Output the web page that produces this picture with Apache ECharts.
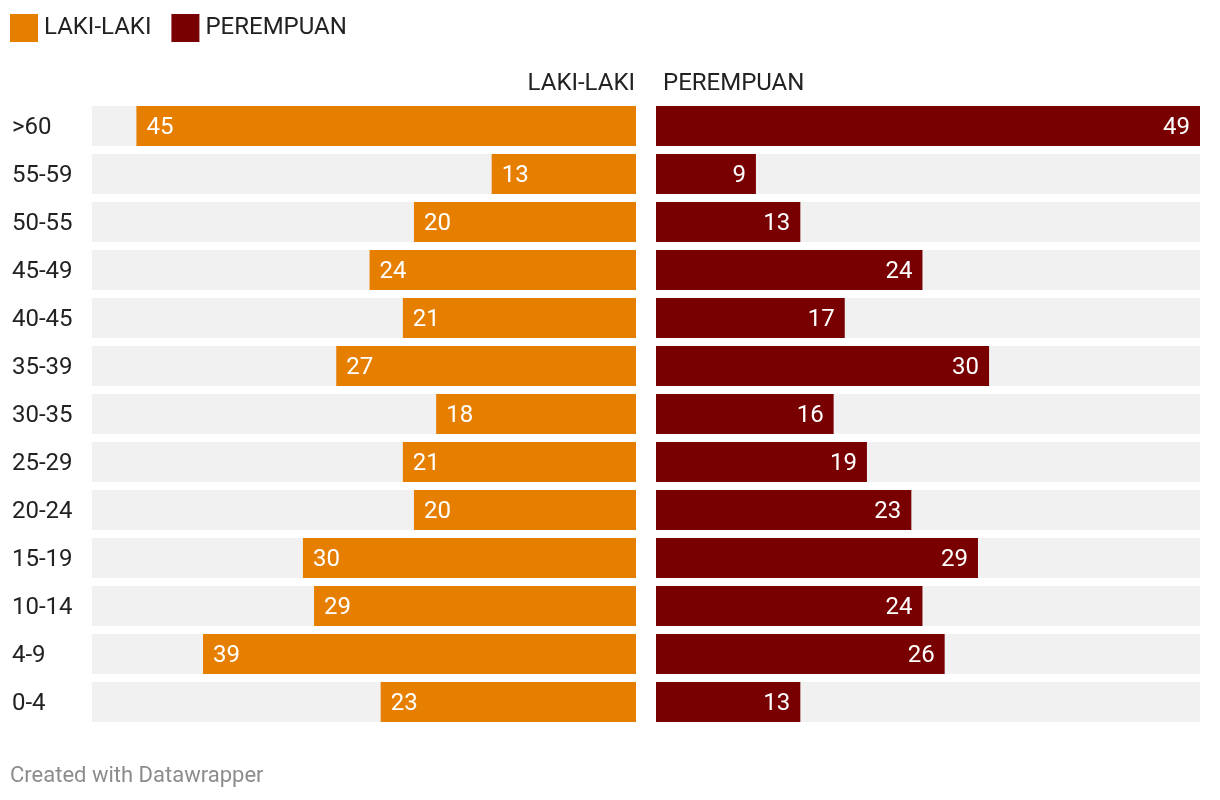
<!DOCTYPE html>
<html>
<head>
<meta charset="utf-8">
<script src="https://cdn.jsdelivr.net/npm/echarts@6/dist/echarts.min.js"></script>
<style>
html,body{margin:0;padding:0;background:#fff;}
#chart{width:1220px;height:800px;}
</style>
</head>
<body>
<div id="chart"></div>
<script>
const categories = ['>60','55-59','50-55','45-49','40-45','35-39','30-35','25-29','20-24','15-19','10-14','4-9','0-4'];
const lakiLaki = [45,13,20,24,21,27,18,21,20,30,29,39,23];
const perempuan = [49,9,13,24,17,30,16,19,23,29,24,26,13];
const seriesNames = ['LAKI-LAKI','PEREMPUAN'];
const scaleMax = 49;

const FONT = 'Roboto, "Noto Sans", sans-serif';
const ORANGE = '#e67e00';
const DARKRED = '#780000';
const BG = '#f1f1f1';

const chart = echarts.init(document.getElementById('chart'), null, {renderer:'canvas'});
const baseLabel = {show:true, color:'#ffffff', fontFamily:FONT, fontSize:24, distance:10, offset:[0,2]};

chart.setOption({
  animation:false,
  textStyle:{fontFamily:FONT},
  legend:{
    data:seriesNames, left:5, top:9, itemWidth:28, itemHeight:28, itemGap:20,
    icon:'rect', textStyle:{fontSize:24, color:'#222', fontFamily:FONT, padding:[0,0,2,1]}
  },
  grid:[
    {left:92, width:544, top:102, height:624},
    {left:656, width:544, top:102, height:624}
  ],
  xAxis:[
    {gridIndex:0, type:'value', min:0, max:scaleMax, inverse:true, show:false},
    {gridIndex:1, type:'value', min:0, max:scaleMax, show:false}
  ],
  yAxis:[
    {gridIndex:0, type:'category', data:categories, inverse:true,
     axisLine:{show:false}, axisTick:{show:false}, splitLine:{show:false},
     axisLabel:{align:'left', margin:80, color:'#222', fontFamily:FONT, fontSize:24,
       formatter:function(v){return '{a|' + v + '}';},
       rich:{a:{fontSize:24, color:'#222', fontFamily:FONT, padding:[4,0,0,0]}}}},
    {gridIndex:1, type:'category', data:categories, inverse:true, show:false}
  ],
  graphic:[
    {type:'text', x:635, y:84, style:{text:'LAKI-LAKI', fontSize:24, fill:'#222', fontFamily:FONT, textAlign:'right', textVerticalAlign:'middle'}},
    {type:'text', x:663, y:84, style:{text:'PEREMPUAN', fontSize:24, fill:'#222', fontFamily:FONT, textAlign:'left', textVerticalAlign:'middle'}},
    {type:'text', x:10, y:776, style:{text:'Created with Datawrapper', fontSize:22, fill:'#8c8c8c', fontFamily:FONT, textAlign:'left', textVerticalAlign:'middle'}}
  ],
  series:[
    {name:seriesNames[0], type:'bar', xAxisIndex:0, yAxisIndex:0, data:lakiLaki,
     barWidth:40, itemStyle:{color:ORANGE},
     showBackground:true, backgroundStyle:{color:BG},
     label:Object.assign({}, baseLabel, {position:'insideLeft'})},
    {name:seriesNames[1], type:'bar', xAxisIndex:1, yAxisIndex:1, data:perempuan,
     barWidth:40, itemStyle:{color:DARKRED},
     showBackground:true, backgroundStyle:{color:BG},
     label:Object.assign({}, baseLabel, {position:'insideRight'})}
  ]
});
</script>
</body>
</html>
